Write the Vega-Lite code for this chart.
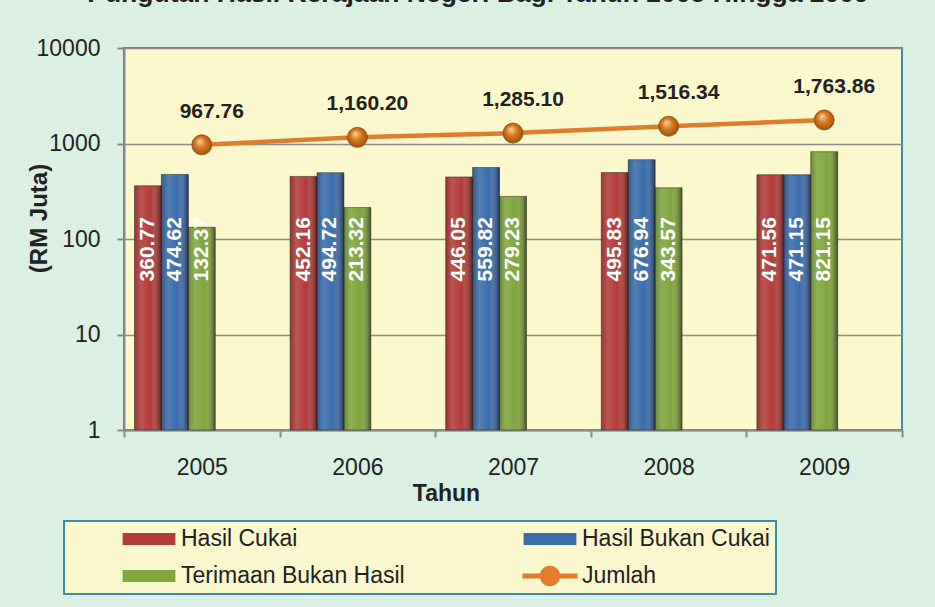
{
  "$schema": "https://vega.github.io/schema/vega-lite/v6.json",
  "width": 778,
  "height": 382,
  "autosize": {"type": "none"},
  "padding": {"left": 124, "top": 48, "right": 33, "bottom": 177},
  "background": "#dcefe3",
  "title": {
    "text": "Pungutan Hasil Kerajaan Negeri Bagi Tahun 2005 Hingga 2009",
    "fontSize": 26.5,
    "fontWeight": "bold",
    "color": "#222222",
    "font": "Liberation Sans",
    "anchor": "middle",
    "frame": "group",
    "dx": -35,
    "offset": 9,
    "baseline": "alphabetic"
  },
  "config": {
    "font": "Liberation Sans",
    "view": {"fill": "#fbf8cd", "stroke": "#3d8db0", "strokeWidth": 2}
  },
  "datasets": {
    "bars": [
      {"Tahun": "2005", "Siri": "Hasil Cukai", "Nilai": 360.77},
      {"Tahun": "2005", "Siri": "Hasil Bukan Cukai", "Nilai": 474.62},
      {"Tahun": "2005", "Siri": "Terimaan Bukan Hasil", "Nilai": 132.37},
      {"Tahun": "2006", "Siri": "Hasil Cukai", "Nilai": 452.16},
      {"Tahun": "2006", "Siri": "Hasil Bukan Cukai", "Nilai": 494.72},
      {"Tahun": "2006", "Siri": "Terimaan Bukan Hasil", "Nilai": 213.32},
      {"Tahun": "2007", "Siri": "Hasil Cukai", "Nilai": 446.05},
      {"Tahun": "2007", "Siri": "Hasil Bukan Cukai", "Nilai": 559.82},
      {"Tahun": "2007", "Siri": "Terimaan Bukan Hasil", "Nilai": 279.23},
      {"Tahun": "2008", "Siri": "Hasil Cukai", "Nilai": 495.83},
      {"Tahun": "2008", "Siri": "Hasil Bukan Cukai", "Nilai": 676.94},
      {"Tahun": "2008", "Siri": "Terimaan Bukan Hasil", "Nilai": 343.57},
      {"Tahun": "2009", "Siri": "Hasil Cukai", "Nilai": 471.56},
      {"Tahun": "2009", "Siri": "Hasil Bukan Cukai", "Nilai": 471.15},
      {"Tahun": "2009", "Siri": "Terimaan Bukan Hasil", "Nilai": 821.15}
    ],
    "jumlah": [
      {"Tahun": "2005", "Nilai": 967.76},
      {"Tahun": "2006", "Nilai": 1160.20},
      {"Tahun": "2007", "Nilai": 1285.10},
      {"Tahun": "2008", "Nilai": 1516.34},
      {"Tahun": "2009", "Nilai": 1763.86}
    ]
  },
  "layer": [
    {
      "data": {"name": "bars"},
      "mark": {"type": "bar"},
      "encoding": {
        "x": {
          "field": "Tahun", "type": "ordinal",
          "scale": {"paddingInner": 0, "paddingOuter": 0},
          "axis": {
            "title": "Tahun", "titleFontSize": 23, "titleFontWeight": "bold", "titleColor": "#222222",
            "titleX": 322, "titleY": 70, "titleBaseline": "alphabetic", "titleAlign": "center", "titleAnchor": "start",
            "labelAngle": 0, "labelFontSize": 23, "labelColor": "#222222", "labelPadding": 19,
            "tickBand": "extent", "tickSize": 7, "tickColor": "#8a8a8a", "tickWidth": 2,
            "domainColor": "#8a8a8a", "domainWidth": 2, "grid": false
          }
        },
        "xOffset": {
          "field": "Siri", "type": "nominal",
          "scale": {"domain": ["Hasil Cukai", "Hasil Bukan Cukai", "Terimaan Bukan Hasil", "k1", "k2"], "paddingInner": 0, "paddingOuter": 0.39}
        },
        "y": {
          "field": "Nilai", "type": "quantitative",
          "scale": {"type": "log", "domain": [1, 10000], "nice": false},
          "axis": {
            "values": [1, 10, 100, 1000, 10000], "format": "d",
            "title": "(RM Juta)", "titleFontSize": 24, "titleFontWeight": "bold", "titleColor": "#222222",
            "titleAngle": 270, "titleX": -85, "titleY": 170, "titleAlign": "center", "titleBaseline": "middle",
            "labelFontSize": 23, "labelColor": "#222222", "labelPadding": 17,
            "tickSize": 7, "tickColor": "#8a8a8a", "tickWidth": 2,
            "domainColor": "#8a8a8a", "domainWidth": 2,
            "grid": true, "gridColor": "#8c8c8c", "gridWidth": 1.5
          }
        },
        "y2": {"datum": 1},
        "color": {
          "field": "Siri", "type": "nominal",
          "scale": {
            "domain": ["Hasil Cukai", "Hasil Bukan Cukai", "Terimaan Bukan Hasil", "Jumlah"],
            "range": ["#b23c3a", "#3a6cab", "#80a63d", "#e07c2b"]
          },
          "legend": {
            "title": " ", "titleOrient": "left", "titleFontSize": 1, "titlePadding": 67,
            "orient": "none", "legendX": -60, "legendY": 473, "direction": "horizontal",
            "columns": 2, "columnPadding": 117, "rowPadding": 13,
            "padding": 6,
            "fillColor": "#fbf8cf", "strokeColor": "#3d8ba8",
            "labelFontSize": 23, "labelColor": "#222222", "labelFont": "Liberation Sans", "labelOffset": 20, "labelLimit": 400,
            "symbolSize": 576, "symbolType": "M-2.2,-0.5H2.2V0.5H-2.2Z", "symbolStrokeWidth": 0, "symbolOpacity": 1,
            "encode": {
              "legend": {"update": {"width": {"value": 806}, "strokeWidth": {"value": 2}}},
              "symbols": {"update": {"shape": {"signal": "datum.value === 'Jumlah' ? 'M-2.3,-0.2H2.3V0.2H-2.3Z M-0.85,0A0.85,0.85 0 1,1 0.85,0A0.85,0.85 0 1,1 -0.85,0Z' : 'M-2.2,-0.5H2.2V0.5H-2.2Z'"}}}
            }
          }
        }
      }
    },
    {
      "data": {"name": "bars"},
      "mark": {
        "type": "bar",
        "stroke": "#2a2018", "strokeOpacity": 0.5, "strokeWidth": 1,
        "fill": {
          "gradient": "linear", "x1": 0, "y1": 0, "x2": 1, "y2": 0,
          "stops": [
            {"offset": 0, "color": "rgba(0,0,0,0.15)"},
            {"offset": 0.25, "color": "rgba(255,255,255,0.12)"},
            {"offset": 0.6, "color": "rgba(255,255,255,0.0)"},
            {"offset": 1, "color": "rgba(0,0,0,0.5)"}
          ]
        }
      },
      "encoding": {
        "x": {"field": "Tahun", "type": "ordinal"},
        "xOffset": {"field": "Siri", "type": "nominal"},
        "y": {"field": "Nilai", "type": "quantitative"},
        "y2": {"datum": 1}
      }
    },
    {
      "data": {"name": "bars"},
      "mark": {"type": "text", "angle": 270, "align": "center", "baseline": "middle", "fontSize": 21, "fontWeight": "bold", "color": "#ffffff"},
      "encoding": {
        "x": {"field": "Tahun", "type": "ordinal"},
        "xOffset": {"field": "Siri", "type": "nominal"},
        "y": {"datum": 78, "type": "quantitative"},
        "text": {"field": "Nilai", "type": "quantitative", "format": ".2f"}
      }
    },
    {
      "data": {"name": "jumlah"},
      "mark": {"type": "line", "color": "#e07c2b", "strokeWidth": 4.5},
      "encoding": {
        "x": {"field": "Tahun", "type": "ordinal"},
        "y": {"field": "Nilai", "type": "quantitative"}
      }
    },
    {
      "data": {"name": "jumlah"},
      "mark": {
        "type": "point", "filled": true, "size": 400, "opacity": 1, "shape": "circle",
        "stroke": "#8a4a12", "strokeWidth": 0.8,
        "fill": {
          "gradient": "radial", "x1": 0.38, "y1": 0.3, "r1": 0, "x2": 0.5, "y2": 0.5, "r2": 0.6,
          "stops": [
            {"offset": 0, "color": "#fbd3a0"},
            {"offset": 0.45, "color": "#d9781f"},
            {"offset": 1, "color": "#8e4a0c"}
          ]
        }
      },
      "encoding": {
        "x": {"field": "Tahun", "type": "ordinal"},
        "y": {"field": "Nilai", "type": "quantitative"}
      }
    },
    {
      "data": {"name": "jumlah"},
      "mark": {"type": "text", "fontSize": 21, "fontWeight": "bold", "color": "#222222", "baseline": "middle", "dy": -33, "dx": 10},
      "encoding": {
        "x": {"field": "Tahun", "type": "ordinal"},
        "y": {"field": "Nilai", "type": "quantitative"},
        "text": {"field": "Nilai", "type": "quantitative", "format": ",.2f"}
      }
    }
  ]
}
